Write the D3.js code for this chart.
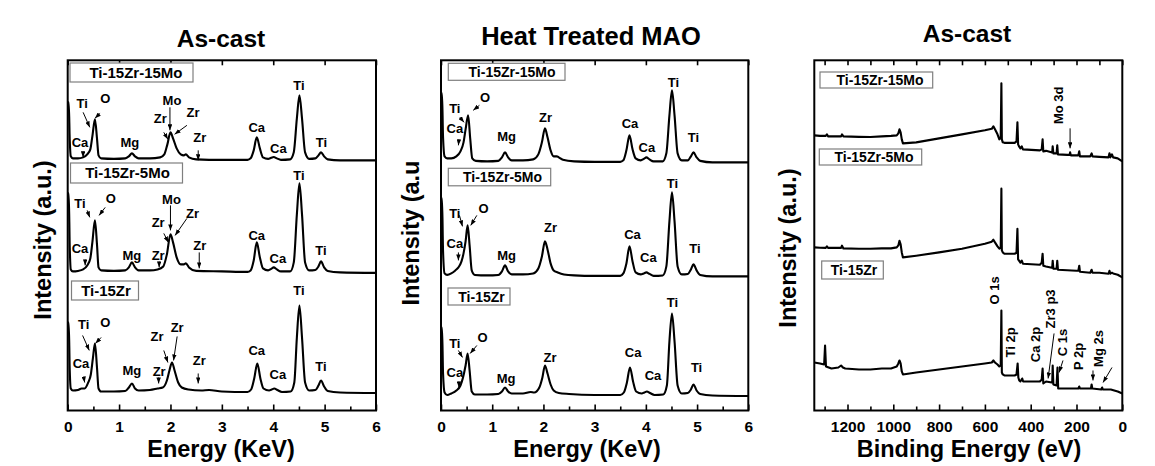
<!DOCTYPE html>
<html><head><meta charset="utf-8">
<script src="https://cdn.jsdelivr.net/npm/d3@7"></script>
<style>
html,body{margin:0;padding:0;background:#fff;}
svg{display:block;}
text{font-family:"Liberation Sans",Arial,Helvetica,sans-serif;font-weight:bold;fill:#000;}
</style></head><body>
<svg id="chart" width="1155" height="466"></svg>
<script>
// ---------------- DATA ----------------
const sampleNames = ["Ti-15Zr-15Mo", "Ti-15Zr-5Mo", "Ti-15Zr"];
const energyMajors = [0, 1, 2, 3, 4, 5, 6];
const energyMinors = [0.5, 1.5, 2.5, 3.5, 4.5, 5.5];
const beMajors = [1200, 1000, 800, 600, 400, 200, 0];
const beMinors = [1300, 1100, 900, 700, 500, 300, 100];

// EDS, as-cast: [energy keV, intensity above baseline a.u.]
const asCast15Mo = [[0.005,58],[0.02,58],[0.04,20],[0.06,4],[0.1,2],[0.2,2],[0.3,3],[0.38,6],[0.44,11],[0.48,24],[0.53,41],[0.57,22],[0.6,5],[0.65,2],[0.9,1.5],[1.12,2],[1.19,4],[1.25,7],[1.31,4],[1.38,2],[1.6,2],[1.8,3],[1.88,6],[1.94,16],[2.0,28],[2.05,22],[2.12,12],[2.2,6],[2.26,5],[2.3,6],[2.36,3],[2.5,1],[3.0,0.5],[3.5,0.5],[3.56,2],[3.62,10],[3.68,23],[3.74,12],[3.8,3],[3.9,1.5],[3.96,2.5],[4.01,3.3],[4.07,2],[4.15,0.5],[4.33,1],[4.4,8],[4.46,42],[4.51,65],[4.56,42],[4.62,8],[4.7,1.5],[4.82,2],[4.88,5],[4.93,8],[4.99,4],[5.06,1],[5.3,0],[6.0,0]];
const asCast5Mo = [[0.005,79],[0.02,79],[0.04,25],[0.06,3],[0.1,1],[0.2,1.5],[0.3,3],[0.38,7],[0.44,14],[0.48,30],[0.53,52],[0.57,28],[0.6,5],[0.65,2],[0.9,1.5],[1.12,2],[1.19,5],[1.25,10],[1.31,5],[1.38,2],[1.6,2],[1.75,3],[1.86,6],[1.93,18],[2.0,38],[2.05,30],[2.12,15],[2.2,8],[2.26,8],[2.3,9],[2.36,5],[2.5,1.5],[3.0,1],[3.5,0.5],[3.56,2],[3.62,12],[3.68,30],[3.74,15],[3.8,4],[3.9,2],[3.96,3.5],[4.01,5],[4.07,3],[4.15,1],[4.33,1],[4.4,10],[4.46,58],[4.51,89],[4.56,58],[4.62,10],[4.7,2],[4.82,2.5],[4.88,6],[4.93,11],[4.99,5],[5.06,1.5],[5.3,0],[6.0,-0.5]];
const asCast15Zr = [[0.005,70],[0.02,70],[0.04,22],[0.06,4],[0.1,2],[0.2,2.5],[0.27,4],[0.33,4],[0.4,10],[0.45,18],[0.49,34],[0.53,49],[0.57,25],[0.6,4],[0.65,1],[0.9,1],[1.12,1.5],[1.19,5],[1.25,9],[1.31,4],[1.38,2],[1.6,2.5],[1.75,4],[1.85,5],[1.93,12],[1.98,22],[2.03,30],[2.08,22],[2.15,10],[2.22,5],[2.35,3],[2.6,2],[2.75,2.5],[3.0,1],[3.5,0.5],[3.57,3],[3.63,14],[3.69,29],[3.75,14],[3.81,4],[3.92,2],[3.97,3],[4.02,4],[4.08,2.5],[4.17,0.5],[4.34,1],[4.41,10],[4.46,55],[4.51,87],[4.56,55],[4.62,10],[4.7,2],[4.82,2.5],[4.88,7],[4.93,12],[4.99,6],[5.06,1.5],[5.3,0],[6.0,-0.5]];
const asCastOffsets = [250, 138, 18];

// EDS, heat treated MAO
const ht15Mo = [[0.005,69],[0.02,69],[0.04,25],[0.07,6],[0.12,4],[0.2,4],[0.3,6],[0.38,11],[0.44,20],[0.48,33],[0.53,47],[0.57,24],[0.61,4],[0.68,1.5],[0.9,1],[1.12,1.5],[1.19,5],[1.25,10],[1.31,5],[1.38,2],[1.6,2],[1.8,3],[1.9,8],[1.97,20],[2.03,34],[2.08,25],[2.14,12],[2.2,6],[2.26,6],[2.3,5],[2.38,2.5],[2.6,1],[3.0,0.5],[3.5,0.5],[3.56,2],[3.62,12],[3.68,27],[3.74,13],[3.8,4],[3.9,2],[3.96,3.5],[4.01,5],[4.07,3],[4.15,1],[4.33,1],[4.4,9],[4.46,47],[4.51,72],[4.56,47],[4.62,9],[4.7,2],[4.82,2],[4.88,6],[4.93,10],[4.99,5],[5.06,1.5],[5.3,0],[6.0,0]];
const ht5Mo = [[0.005,78],[0.02,78],[0.04,25],[0.07,3],[0.12,1.5],[0.2,3],[0.28,6],[0.34,9],[0.4,15],[0.44,23],[0.48,35],[0.52,51],[0.56,30],[0.6,6],[0.66,1.5],[0.9,1],[1.12,1.5],[1.19,5],[1.25,11],[1.31,5],[1.38,2],[1.6,2],[1.8,3],[1.9,8],[1.97,20],[2.03,35],[2.08,27],[2.14,13],[2.2,6],[2.28,4],[2.4,2],[2.6,1],[3.0,0.5],[3.5,0.5],[3.56,3],[3.62,13],[3.68,30],[3.74,15],[3.8,4],[3.9,2],[3.96,3],[4.01,4],[4.07,2.5],[4.15,0.5],[4.33,1],[4.4,10],[4.46,55],[4.51,84],[4.56,55],[4.62,10],[4.7,2],[4.82,2.5],[4.88,7],[4.93,12],[4.99,6],[5.06,1.5],[5.3,0],[6.0,0]];
const ht15Zr = [[0.005,68],[0.02,68],[0.04,22],[0.07,3],[0.12,0.5],[0.2,2],[0.3,5],[0.38,10],[0.43,18],[0.48,30],[0.52,42],[0.56,24],[0.6,4],[0.66,1],[0.9,1],[1.12,1.5],[1.19,4],[1.25,8],[1.31,4],[1.38,2],[1.6,2],[1.75,3.5],[1.82,3],[1.92,8],[1.98,18],[2.03,30],[2.08,22],[2.14,11],[2.2,5],[2.3,2.5],[2.5,1.5],[3.0,0.5],[3.5,0.5],[3.57,3],[3.63,13],[3.69,28],[3.75,14],[3.81,4],[3.92,2],[3.97,3],[4.02,4],[4.08,2.5],[4.17,0.5],[4.34,1],[4.41,10],[4.46,54],[4.51,82],[4.56,54],[4.62,10],[4.7,2],[4.82,2.5],[4.88,6],[4.93,11],[4.99,5],[5.06,1.5],[5.3,0],[6.0,-0.5]];
const htOffsets = [248, 134, 15];

// XPS survey, as-cast: [binding energy eV, intensity above end value a.u.]
const xps15Mo = [[1345,26],[1320,25.5],[1295,25.5],[1290,27],[1285,25],[1250,25],[1228,25],[1224,27],[1218,25],[1150,24.5],[1100,24.3],[1050,25],[1010,25.5],[985,26],[978,28],[973,32],[968,29],[963,22],[958,18],[900,19],[800,23],[700,27],[600,31],[570,32.5],[563,35],[556,32],[545,27],[537,22],[531,24],[528,78],[526,22],[522,19],[515,18.5],[470,18.5],[462,20],[458,39],[455,17],[451,15],[445,13],[439,15],[434,12],[360,11],[352,12],[348,22],[345,10],[333,10.5],[310,9],[306,9],[304,15],[301,8],[287,8],[284,16],[281,7],[240,6.5],[230,6.5],[228,9],[225,6],[192,6],[188,10],[185,5],[140,5],[134,8],[130,5],[100,4.5],[60,4],[56,8],[52,4],[45,7],[40,4],[20,3],[0,0]];
const xps5Mo = [[1345,30],[1320,29.7],[1295,29.5],[1290,31],[1285,29.5],[1250,29.5],[1228,29.5],[1224,31.7],[1218,29],[1150,28.7],[1100,28.7],[1050,29],[1010,29],[985,30],[978,32],[973,36.7],[968,33],[963,25],[958,20],[900,21.7],[800,25],[700,28.7],[600,33.7],[570,35.7],[563,37.7],[556,35],[545,31],[537,28.7],[531,30],[528,88.7],[526,27],[522,25],[515,23.7],[470,23.7],[462,24.7],[458,48.7],[455,18],[451,16.7],[445,14.7],[439,16.7],[434,13.7],[360,12.7],[352,14.7],[348,23.7],[345,11.7],[333,11],[308,9.7],[306,10],[304,16.7],[301,8.7],[287,8.7],[284,16.7],[281,7.7],[200,6.7],[192,6.7],[188,11.7],[185,5.7],[140,4.7],[134,7.7],[130,4.7],[100,4.7],[60,3.7],[56,6.7],[52,3.7],[45,4.7],[40,4],[20,2.7],[0,0]];
const xps15Zr = [[1345,31],[1320,30],[1302,29],[1298,48],[1294,27],[1270,25],[1240,26],[1228,28],[1220,26],[1210,25],[1150,24],[1100,24],[1050,25],[1010,25],[985,27],[978,30],[973,33],[968,30],[963,22],[958,19],[900,21],[800,24],[700,27],[600,30],[570,31],[563,33],[556,31],[545,29],[537,27],[531,28],[528,83],[526,21],[522,19],[515,18],[470,18],[462,19],[457,30],[454,16],[450,13],[445,12],[437,15],[433,12],[360,12],[352,14],[348,25],[345,10],[333,12],[308,11],[306,11],[304,28],[301,9],[287,8],[283,26],[280,5],[250,5],[192,5],[188,7],[185,5],[137,5],[134,9],[131,5],[92,4],[88,6],[85,4],[50,4],[20,2],[0,0]];
const xpsOffsets = [249, 133, 17];

// Peak annotations: [text, x data, y data (absolute a.u.)]
const asCastLabels = [
  ["Ti",0.28,307],["O",0.73,312],["Ca",0.24,268],["Mg",1.21,268],["Mo",2.03,310],["Zr",1.80,292],["Zr",2.44,298],["Zr",2.57,273],["Ca",3.68,283],["Ca",4.10,262],["Ti",4.50,325],["Ti",4.94,268],
  ["Ti",0.24,207],["O",0.84,212],["Ca",0.24,162],["Mg",1.25,155],["Zr",1.76,155],["Mo",2.02,211],["Zr",1.76,188],["Zr",2.43,197],["Zr",2.57,165],["Ca",3.68,175],["Ca",4.09,152],["Ti",4.50,235],["Ti",4.93,160],
  ["Ti",0.31,86],["O",0.73,88],["Ca",0.26,47],["Mg",1.25,40],["Zr",1.78,39],["Zr",1.74,74],["Zr",2.13,83],["Zr",2.56,50],["Ca",3.68,60],["Ca",4.09,36],["Ti",4.50,120],["Ti",4.93,44]
];
const asCastArrows = [
  [0.30,298,0.43,283],[0.63,297,0.53,292],[0.30,259,0.30,253],[1.99,303,1.99,280],[1.87,278,1.95,271],[2.32,285,2.08,276],[2.54,260,2.54,250],
  [0.38,200,0.43,193],[0.73,203,0.61,195],[0.34,151,0.34,145],[2.0,205,2.0,180],[1.87,177,1.96,168],[2.32,192,2.09,175],[1.78,149,1.78,143],[2.56,158,2.56,142],
  [0.29,75,0.42,60],[0.65,73,0.54,67],[0.31,34,0.33,28],[1.77,33,1.77,27],[1.87,60,1.95,48],[2.13,74,2.06,50],[2.54,37,2.54,27]
];
const htLabels = [
  ["Ti",0.27,302],["O",0.86,313],["Ca",0.27,282],["Mg",1.28,274],["Zr",2.04,293],["Ca",3.69,287],["Ca",4.02,263],["Ti",4.54,328],["Ti",4.93,273],
  ["Ti",0.27,197],["O",0.83,202],["Ca",0.27,167],["Mg",1.28,155],["Zr",2.14,183],["Ca",3.74,176],["Ca",4.05,153],["Ti",4.52,227],["Ti",4.96,162],
  ["Ti",0.27,67],["O",0.81,73],["Ca",0.27,38],["Mg",1.27,32],["Zr",2.13,53],["Ca",3.75,58],["Ca",4.14,35],["Ti",4.52,108],["Ti",4.99,43]
];
const htArrows = [
  [0.37,293,0.45,288],[0.75,305,0.63,300],[0.35,271,0.34,265],
  [0.36,195,0.42,184],[0.70,195,0.58,185],[0.34,158,0.34,150],
  [0.34,60,0.42,53],[0.70,65,0.57,57],[0.35,29,0.35,23]
];
const xpsLabels = [["Mo 3d",281,305],["O 1s",560,120],["Ti 2p",490,68],["Ca 2p",381,66],["Zr3 p3",316,101.5],["C 1s",263,68],["P 2p",193,54],["Mg 2s",106,62]];
const xpsArrows = [[228,282,228,262],[298,77,324,32],[259,50,276,38],[128,40,128,30],[45,43,84,28]];

// ---------------- LAYOUT ----------------
const Y_TOP = 60.3, Y_BOT = 410.5;
const y = d3.scaleLinear().domain([0, 350]).range([Y_BOT, Y_TOP]);

const panels = [
  { x0: 67.7, x1: 376, domain: [0, 6], majors: energyMajors, minors: energyMinors, top: energyMajors,
    series: [asCast15Mo, asCast5Mo, asCast15Zr], offsets: asCastOffsets, curve: d3.curveMonotoneX,
    labels: asCastLabels, arrows: asCastArrows, rotated: false,
    title: "As-cast", tx: 221, ty: 47, xt: "Energy (KeV)", xtx: 221, xty: 457, yt: "Intensity (a.u.)", ytx: 43, yty: 240,
    boxes: [{x:70,y:63,w:123,h:19,cx:136,fs:15},{x:70.5,y:163,w:112,h:20,cx:127.5,fs:15},{x:71.5,y:281,w:67,h:19,cx:106,fs:15}] },
  { x0: 441, x1: 748.3, domain: [0, 6], majors: energyMajors, minors: energyMinors, top: energyMajors,
    series: [ht15Mo, ht5Mo, ht15Zr], offsets: htOffsets, curve: d3.curveMonotoneX,
    labels: htLabels, arrows: htArrows, rotated: false,
    title: "Heat Treated MAO", tx: 591, ty: 45, xt: "Energy (KeV)", xtx: 587, xty: 456.5, yt: "Intensity (a.u", ytx: 411, yty: 233,
    boxes: [{x:448.3,y:63.3,w:116.7,h:17,cx:512,fs:14},{x:448.3,y:168.3,w:102.4,h:17.5,cx:502.5,fs:14},{x:448,y:288,w:62,h:17,cx:481.5,fs:14}] },
  { x0: 814.3, x1: 1122.3, domain: [1345, 0], majors: beMajors, minors: beMinors, top: beMajors.concat(beMinors),
    series: [xps15Mo, xps5Mo, xps15Zr], offsets: xpsOffsets, curve: d3.curveLinear,
    labels: xpsLabels, arrows: xpsArrows, rotated: true,
    title: "As-cast", tx: 967, ty: 42, xt: "Binding Energy (eV)", xtx: 969, xty: 456.5, yt: "Intensity (a.u.)", ytx: 788, yty: 248,
    boxes: [{x:820,y:72,w:112.7,h:16,cx:880,fs:14},{x:819.3,y:149,w:102.4,h:16,cx:874,fs:14},{x:821.7,y:261,w:61.6,h:18,cx:854,fs:14}] }
];

const svg = d3.select("#chart");
svg.append("rect").attr("width", 1155).attr("height", 466).attr("fill", "#fff");
svg.append("defs").append("marker")
  .attr("id", "arr").attr("viewBox", "0 0 8 6").attr("refX", 8).attr("refY", 3)
  .attr("markerWidth", 6).attr("markerHeight", 4.5).attr("markerUnits", "userSpaceOnUse").attr("orient", "auto")
  .append("path").attr("d", "M0,0L8,3L0,6Z").attr("fill", "#000");

panels.forEach((p, pi) => {
  const x = d3.scaleLinear().domain(p.domain).range([p.x0, p.x1]);
  const g = svg.append("g");

  // spectra
  p.series.forEach((s, i) => {
    const line = d3.line().x(d => x(d[0])).y(d => y(d[1] + p.offsets[i])).curve(p.curve);
    g.append("path").datum(s).attr("d", line)
      .attr("fill", "none").attr("stroke", "#000").attr("stroke-width", 2.1).attr("stroke-linejoin", "round");
  });

  // axes
  const styleAxis = sel => {
    sel.select(".domain").remove();
    sel.selectAll(".tick line").attr("stroke", "#000").attr("stroke-width", 1.6);
    sel.selectAll(".tick text").style("font-size", "15.5px").style("font-weight", "bold")
      .style("font-family", '"Liberation Sans",Arial,sans-serif').attr("fill", "#000");
  };
  g.append("g").attr("transform", `translate(0,${Y_BOT})`)
    .call(d3.axisBottom(x).tickValues(p.majors).tickSizeInner(-6).tickSizeOuter(0).tickPadding(10).tickFormat(d3.format("d")))
    .call(styleAxis);
  g.append("g").attr("transform", `translate(0,${Y_BOT})`)
    .call(d3.axisBottom(x).tickValues(p.minors).tickSizeInner(-4).tickSizeOuter(0).tickFormat(""))
    .call(styleAxis);
  g.append("g").attr("transform", `translate(0,${Y_TOP})`)
    .call(d3.axisTop(x).tickValues(p.top).tickSizeInner(-5).tickSizeOuter(0).tickFormat(""))
    .call(styleAxis);

  // frame
  g.append("rect").attr("x", p.x0).attr("y", Y_TOP).attr("width", p.x1 - p.x0).attr("height", Y_BOT - Y_TOP)
    .attr("fill", "none").attr("stroke", "#000").attr("stroke-width", 2);

  // sample boxes
  p.boxes.forEach((b, i) => {
    g.append("rect").attr("x", b.x).attr("y", b.y).attr("width", b.w).attr("height", b.h)
      .attr("fill", "#fff").attr("stroke", "#7f7f7f").attr("stroke-width", 1.2);
    g.append("text").attr("x", b.cx).attr("y", b.y + b.h / 2).attr("dy", "0.36em")
      .attr("text-anchor", "middle").style("font-size", b.fs + "px").text(sampleNames[i]);
  });

  // arrows
  p.arrows.forEach(a => {
    g.append("line").attr("x1", x(a[0])).attr("y1", y(a[1])).attr("x2", x(a[2])).attr("y2", y(a[3]))
      .attr("stroke", "#000").attr("stroke-width", 1).attr("marker-end", "url(#arr)");
  });

  // peak labels
  p.labels.forEach(l => {
    const t = g.append("text").attr("text-anchor", "middle").attr("dy", "0.36em").style("font-size", "13px").text(l[0]);
    if (p.rotated) t.attr("transform", `translate(${x(l[1])},${y(l[2])}) rotate(-90)`);
    else t.attr("x", x(l[1])).attr("y", y(l[2]));
  });

  // titles
  g.append("text").attr("x", p.tx).attr("y", p.ty).attr("text-anchor", "middle")
    .style("font-size", pi === 1 ? "25.5px" : "24.5px").text(p.title);
  g.append("text").attr("x", p.xtx).attr("y", p.xty).attr("text-anchor", "middle").style("font-size", "23.5px").text(p.xt);
  g.append("text").attr("transform", `translate(${p.ytx},${p.yty}) rotate(-90)`).attr("dy", "0.36em")
    .attr("text-anchor", "middle").style("font-size", "23.5px").text(p.yt);
});
</script>
</body></html>
